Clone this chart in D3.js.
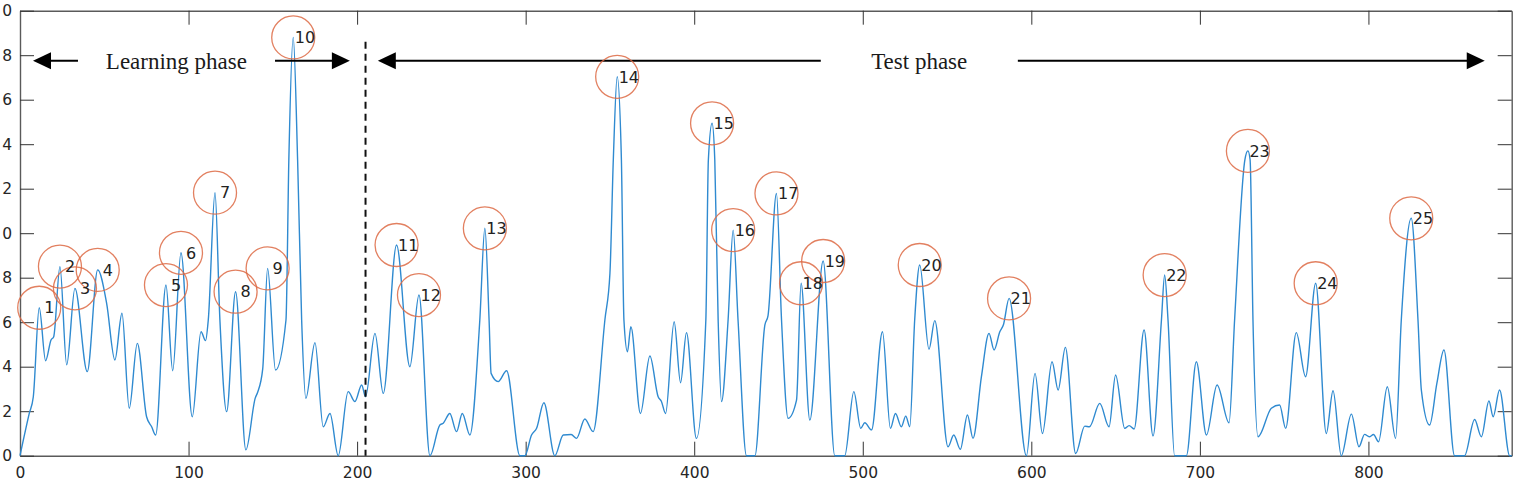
<!DOCTYPE html>
<html>
<head>
<meta charset="utf-8">
<script src="https://cdn.jsdelivr.net/npm/d3@7"></script>
<style>
  html, body { margin: 0; padding: 0; background: #fff; }
  svg { display: block; }
</style>
</head>
<body>
<svg id="chart" width="1520" height="482"></svg>
<script>
// ---- data ----
const sampleX = [0, 5.5, 7.9, 11.4, 15.2, 18.4, 20.0, 23.7, 27.7, 32.6, 39.9, 46.1, 51.4, 56.3, 60.5, 64.8, 69.6, 75.1, 78.1, 80.5,
  86.6, 90.6, 95.5, 102.2, 107.4, 110.1, 111.7, 115.7, 118.6, 122.6, 127.9, 134.0, 139.6, 141.0, 144.0, 146.9, 151.6, 157.8, 159.5, 162.1,
  164.7, 167.1, 169.6, 175.0, 179.9, 183.9, 188.8, 194.7, 198.7, 202.7, 205.0, 210.6, 215.5, 223.4, 231.3, 236.7, 243.2, 249.1, 251.1, 255.0,
  259.0, 262.4, 266.9, 272.8, 275.8, 278.3, 279.5, 283.7, 288.7, 296.6, 299.5, 303.5, 306.5, 310.8, 317.3, 322.3, 327.0, 330.2, 335.1, 340.0,
  347.0, 350.0, 352.0, 354.3, 356.8, 358.3, 360.4, 362.4, 368.1, 373.7, 378.6, 380.5, 383.0, 388.1, 391.9, 395.4, 401.3, 406.9, 408.4, 410.6,
  412.2, 414.2, 416.2, 420.1, 423.1, 426.0, 431.0, 436.0, 441.9, 443.8, 448.8, 451.8, 455.7, 460.7, 463.4, 468.6, 476.5, 483.4, 489.3, 494.7,
  498.8, 501.2, 505.2, 511.7, 516.4, 519.4, 522.9, 525.5, 527.9, 530.8, 533.8, 539.3, 542.7, 550.6, 554.0, 557.9, 562.1, 565.4, 570.4, 574.9,
  577.9, 581.3, 583.5, 586.8, 597.1, 602.2, 606.6, 612.3, 615.9, 620.2, 626.3, 631.7, 634.5, 640.6, 646.1, 650.0, 655.4, 658.0, 661.0, 666.9,
  672.2, 677.2, 679.1, 681.1, 685.0, 692.0, 697.9, 703.9, 710.2, 717.3, 720.6, 726.7, 728.5, 729.8, 731.5, 734.5, 742.4, 747.3, 750.9, 757.2,
  762.7, 768.7, 775.0, 779.0, 783.9, 789.9, 794.4, 797.7, 800.5, 803.0, 806.0, 811.2, 816.1, 819.5, 825.4, 829.4, 831.4, 836.3, 840.6, 844.8,
  851.1, 857.0, 863.0, 867.0, 871.5, 874.0, 877.8, 883.8, 885];
const sampleY = [0, 1.9, 2.65, 6.65, 4.27, 5.2, 5.35, 8.5, 4.08, 7.52, 3.78, 8.35, 6.85, 4.3, 6.4, 2.13, 5.05, 1.75, 1.3, 0.93,
  7.67, 3.82, 9.12, 1.75, 5.57, 5.17, 6.1, 11.82, 6.1, 1.98, 7.37, 0.26, 2.6, 2.85, 3.9, 8.42, 3.85, 6.1, 13.3, 18.8,
  13.3, 6.1, 2.58, 5.08, 1.3, 1.9, 0.0, 2.88, 2.43, 3.18, 2.65, 5.5, 2.8, 9.47, 4.0, 7.22, 0.0, 1.38, 1.46, 1.9,
  1.08, 1.9, 0.93, 6.1, 10.22, 6.1, 3.7, 3.33, 3.82, 0.0, 0.0, 0.93, 1.23, 2.38, 0.0, 0.93, 0.95, 0.78, 1.65, 1.08,
  6.1, 8.2, 13.3, 17.03, 13.3, 6.1, 4.67, 5.8, 1.9, 4.48, 2.65, 2.45, 1.9, 6.02, 3.28, 5.53, 0.78, 6.1, 13.3, 14.94,
  13.3, 6.1, 2.43, 6.1, 10.14, 6.1, 0.0, 0.0, 5.87, 6.3, 11.79, 6.1, 1.68, 2.5, 7.75, 1.6, 8.75, 0.0, 0.0, 2.88,
  1.23, 1.48, 1.16, 5.57, 1.23, 1.9, 1.3, 1.78, 1.3, 6.1, 8.57, 4.78, 6.07, 0.4, 0.93, 0.29, 1.83, 0.78, 3.55, 5.5,
  4.75, 5.57, 5.9, 7.07, 0.0, 3.7, 1.0, 4.22, 2.95, 4.87, 0.1, 1.33, 1.3, 2.35, 1.3, 3.63, 1.23, 1.35, 1.2, 5.65,
  0.89, 6.1, 8.12, 6.1, 0.0, 0.0, 4.22, 0.93, 3.18, 1.48, 6.1, 13.3, 13.7, 13.3, 6.1, 0.85, 2.13, 2.28, 1.23, 5.53,
  3.55, 7.75, 1.0, 2.92, 0.0, 1.87, 0.4, 0.96, 0.85, 0.95, 0.63, 3.1, 0.78, 6.1, 10.67, 6.1, 2.95, 1.38, 3.25, 4.75,
  0.0, 0.0, 1.63, 0.85, 2.46, 1.75, 2.95, 0.0, 0.0];

const peakLabels = ["1","2","3","4","5","6","7","8","9","10","11","12","13","14","15","16","17","18","19","20","21","22","23","24","25"];
const peakX = [11.4, 23.7, 32.6, 46.1, 86.6, 95.5, 115.7, 127.9, 146.9, 162.1, 223.4, 236.7, 275.8, 354.3, 410.6, 423.1, 448.8, 463.4, 476.5, 533.8, 586.8, 679.1, 728.5, 768.7, 825.4];
const peakY = [6.65, 8.5, 7.52, 8.35, 7.67, 9.12, 11.82, 7.37, 8.42, 18.8, 9.47, 7.22, 10.22, 17.03, 14.94, 10.14, 11.79, 7.75, 8.75, 8.57, 7.07, 8.12, 13.7, 7.75, 10.67];

const xTicks = [0, 100, 200, 300, 400, 500, 600, 700, 800];
const yTicks = [0, 2, 4, 6, 8, 10, 12, 14, 16, 18, 20];
// y tick labels as they are visible in the (left-cropped) reference
const yTickLabels = ["0", "2", "4", "6", "8", "0", "2", "4", "6", "8", "0"];

const phaseNames = ["Learning phase", "Test phase"];
const phaseStart = [7.7, 212.3];
const phaseGapFrom = [34.4, 475.1];
const phaseGapTo = [151.3, 592.0];
const phaseEnd = [195.7, 869.0];
const phaseTextX = [92.8, 533.5];
const phaseY = 17.75;
const boundaryX = 205;
const boundaryTop = 18.6;

// ---- drawing ----
const svg = d3.select("#chart");
const x = d3.scaleLinear().domain([0, 885]).range([20, 1511.7]);
const y = d3.scaleLinear().domain([0, 20]).range([455.7, 10.7]);
const tick = 14;

const axisG = svg.append("g");
const styleAxis = g => {
  g.selectAll(".domain").attr("stroke", "#5a5a5a").attr("stroke-width", 1.4);
  g.selectAll(".tick line").attr("stroke", "#333").attr("stroke-width", 1);
  g.selectAll(".tick text").attr("fill", "#262626")
    .style("font-family", "'DejaVu Sans', sans-serif").style("font-size", "15.5px");
};
axisG.append("g").attr("transform", `translate(0,${y(0)})`)
  .call(d3.axisBottom(x).tickValues(xTicks).tickSize(-tick).tickSizeOuter(0).tickPadding(11.5))
  .call(styleAxis);
axisG.append("g").attr("transform", `translate(0,${y(20)})`)
  .call(d3.axisTop(x).tickValues(xTicks).tickSize(-tick).tickSizeOuter(0).tickFormat(""))
  .call(styleAxis);
axisG.append("g").attr("transform", `translate(${x(0)},0)`)
  .call(d3.axisLeft(y).tickValues(yTicks).tickSize(-tick).tickSizeOuter(0).tickPadding(8)
    .tickFormat((d, i) => yTickLabels[i]))
  .call(styleAxis);
axisG.append("g").attr("transform", `translate(${x(885)},0)`)
  .call(d3.axisRight(y).tickValues(yTicks).tickSize(-tick).tickSizeOuter(0).tickFormat(""))
  .call(styleAxis);

// signal line
const pts = sampleX.map((v, i) => [v, sampleY[i]]);
svg.append("path")
  .datum(pts)
  .attr("fill", "none")
  .attr("stroke", "#2f8ad0")
  .attr("stroke-width", 1.4)
  .attr("stroke-linejoin", "round")
  .attr("d", d3.line().x(d => x(d[0])).y(d => y(d[1])).curve(d3.curveMonotoneX));

// boundary dashed line
svg.append("line")
  .attr("x1", x(boundaryX)).attr("x2", x(boundaryX))
  .attr("y1", y(boundaryTop)).attr("y2", y(0))
  .attr("stroke", "#111").attr("stroke-width", 2)
  .attr("stroke-dasharray", "7,5");

// phase arrows
const arrowHead = (tipX, tipY, dir) => {
  const L = 18, H = 8.5;
  return `M${tipX},${tipY}L${tipX - dir * L},${tipY - H}L${tipX - dir * L},${tipY + H}Z`;
};
const py = y(phaseY);
phaseNames.forEach((name, i) => {
  const g = svg.append("g");
  g.append("line").attr("x1", x(phaseStart[i]) + 10).attr("x2", x(phaseGapFrom[i]))
    .attr("y1", py).attr("y2", py).attr("stroke", "#000").attr("stroke-width", 2);
  g.append("line").attr("x1", x(phaseGapTo[i])).attr("x2", x(phaseEnd[i]) - 10)
    .attr("y1", py).attr("y2", py).attr("stroke", "#000").attr("stroke-width", 2);
  g.append("path").attr("d", arrowHead(x(phaseStart[i]), py, -1)).attr("fill", "#000");
  g.append("path").attr("d", arrowHead(x(phaseEnd[i]), py, 1)).attr("fill", "#000");
  g.append("text").attr("x", x(phaseTextX[i])).attr("y", py + 7.8)
    .attr("text-anchor", "middle")
    .style("font-family", "'Liberation Serif', 'Times New Roman', serif")
    .style("font-size", "23px").attr("fill", "#1a1a1a")
    .text(name);
});

// peak circles and labels
const peaks = peakLabels.map((l, i) => ({ l, x: peakX[i], y: peakY[i] }));
svg.append("g").selectAll("circle").data(peaks).join("circle")
  .attr("cx", d => x(d.x)).attr("cy", d => y(d.y)).attr("r", 21.5)
  .attr("fill", "none").attr("stroke", "#dd6a44").attr("stroke-width", 1.3).attr("stroke-opacity", 0.85);
svg.append("g").selectAll("text").data(peaks).join("text")
  .attr("x", d => x(d.x) + (d.l.length === 1 ? 5 : 1.5)).attr("y", d => y(d.y))
  .attr("dy", "0.36em")
  .style("font-family", "'DejaVu Sans', sans-serif").style("font-size", "16px")
  .attr("fill", "#222")
  .text(d => d.l);
</script>
</body>
</html>
